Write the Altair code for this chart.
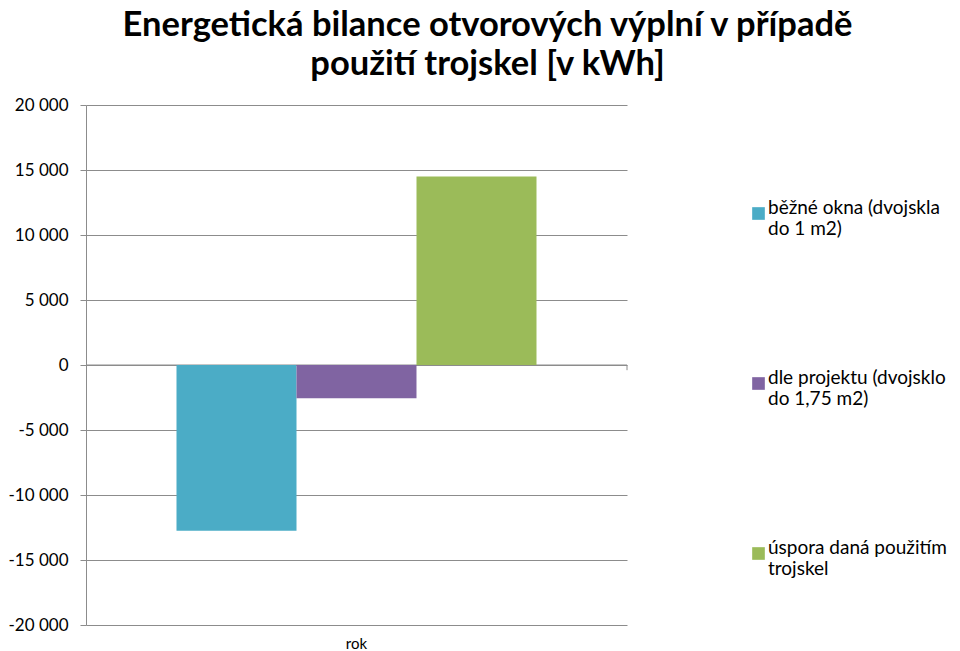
import altair as alt
import pandas as pd

categories = ["rok", "rok", "rok"]
series = [
    "běžné okna (dvojskla\ndo 1 m2)",
    "dle projektu (dvojsklo\ndo 1,75 m2)",
    "úspora daná použitím\ntrojskel",
]
values = [-12750, -2550, 14500]
colors = ["#4BACC6", "#8064A2", "#9BBB59"]
y_ticks = [-20000, -15000, -10000, -5000, 0, 5000, 10000, 15000, 20000]
title_lines = ["Energetická bilance otvorových výplní v případě", "použití trojskel [v kWh]"]

df = pd.DataFrame({"kategorie": categories, "rada": series, "hodnota": values})
zero_df = pd.DataFrame({"nula": [0], "dolu": [-400]})

W, H = 541, 520
GRAY = "#8c8c8c"
FONT = "Lato"

label_expr = "(datum.value < 0 ? '-' : '') + replace(format(abs(datum.value), ','), ',', ' ')"

y_axis = alt.Axis(
    title=None, values=y_ticks, labelExpr=label_expr,
    grid=True, gridColor=GRAY, domainColor=GRAY, tickColor=GRAY,
    tickSize=6, labelPadding=12, labelFontSize=17, labelFont=FONT,
    labelColor="#000",
)
y_scale = alt.Scale(domain=[-20000, 20000], nice=False)

zero = alt.Chart(zero_df).mark_rule(color=GRAY, strokeWidth=1).encode(
    y=alt.Y("nula:Q", axis=y_axis, scale=y_scale)
)
tick = alt.Chart(zero_df).mark_rule(color=GRAY, strokeWidth=1).encode(
    x=alt.value(W),
    y=alt.Y("nula:Q", axis=y_axis, scale=y_scale),
    y2="dolu:Q",
)

bars = alt.Chart(df).mark_bar().encode(
    x=alt.X(
        "kategorie:N",
        scale=alt.Scale(paddingInner=0, paddingOuter=0.2514),
        axis=alt.Axis(
            title=None, labelAngle=0, domain=False, ticks=False,
            labelPadding=11, labelFontSize=15, labelFont=FONT, labelColor="#000",
        ),
    ),
    xOffset=alt.XOffset("rada:N", sort=series, scale=alt.Scale(paddingInner=0, paddingOuter=0)),
    y=alt.Y("hodnota:Q", scale=y_scale, axis=y_axis),
    color=alt.Color(
        "rada:N",
        sort=series,
        scale=alt.Scale(domain=series, range=colors),
        legend=alt.Legend(
            title=None, orient="none", legendX=663, legendY=99,
            direction="vertical", symbolType="square", symbolSize=160,
            symbolStrokeWidth=0, labelFont=FONT, labelFontSize=19,
            labelColor="#000", labelExpr="split(datum.label, '\\n')",
            labelLimit=400, labelOffset=0, rowPadding=129, padding=0,
            labelBaseline="alphabetic",
        ),
    ),
)

chart = alt.layer(zero, tick, bars).properties(
    width=W,
    height=H,
    title=alt.Title(
        title_lines, font=FONT, fontSize=34.5, fontWeight="bold", color="#000",
        anchor="middle", frame="group", dx=131, lineHeight=39, offset=14,
    ),
    autosize=alt.AutoSizeParams(type="none"),
    padding={"left": 78, "top": 97, "right": 325, "bottom": 26},
).configure_view(stroke=None)

chart.save("out.html", embed_options={"renderer": "svg", "actions": False})
